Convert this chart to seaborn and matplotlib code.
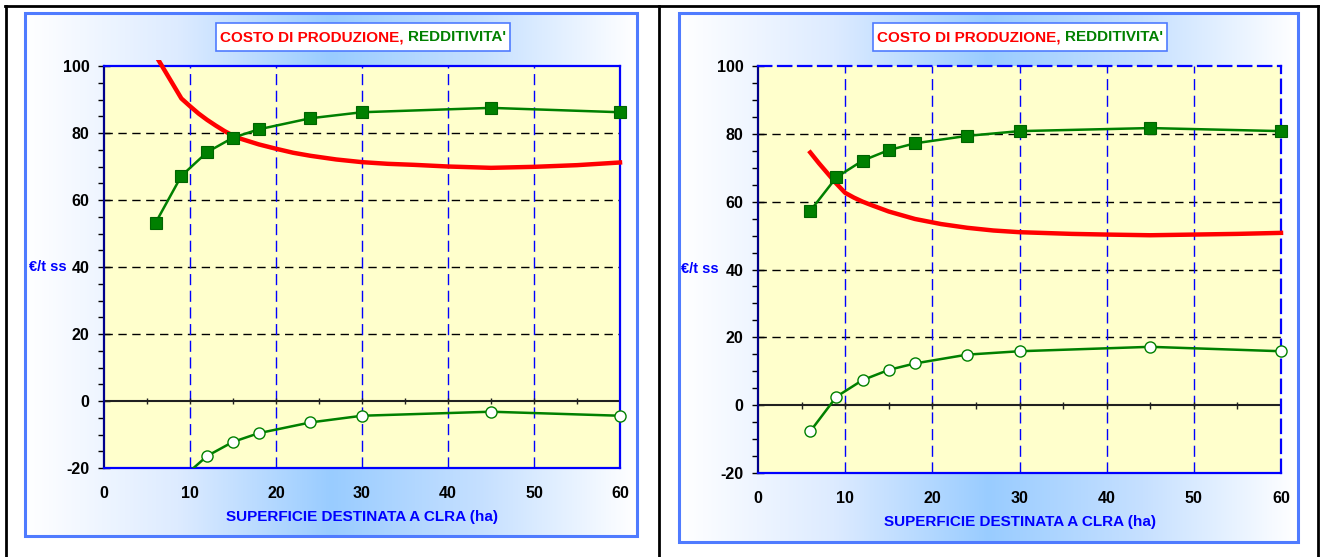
import numpy as np
import pandas as pd
import seaborn as sns
from matplotlib import pyplot as plt
from matplotlib import font_manager
from matplotlib.patches import Rectangle
from matplotlib.lines import Line2D

# ---- data ----
ha = [6, 9, 12, 15, 18, 24, 30, 45, 60]

# left panel
left_reddito = [53.2, 67.2, 74.3, 78.6, 81.1, 84.4, 86.2, 87.5, 86.2]
left_margine = [-42.0, -23.2, -16.4, -12.2, -9.6, -6.4, -4.4, -3.2, -4.4]
left_costo_x = [6, 9, 10, 11, 12, 13, 14, 15, 16, 18, 20, 22, 24, 27, 30, 33, 36, 40, 45, 50, 55, 60]
left_costo = [103.2, 90.3, 88.0, 85.8, 83.9, 82.2, 80.6, 79.2, 78.2, 76.6, 75.3, 74.1, 73.2,
              72.1, 71.3, 70.8, 70.5, 70.0, 69.6, 69.9, 70.4, 71.2]

# right panel
right_reddito = [57.3, 67.2, 72.1, 75.2, 77.2, 79.4, 80.8, 81.7, 80.8]
right_margine = [-7.7, 2.5, 7.4, 10.4, 12.3, 14.9, 15.9, 17.2, 15.9]
right_costo_x = [6, 7, 8, 9, 10, 11, 12, 13, 15, 18, 21, 24, 27, 30, 36, 40, 45, 50, 55, 60]
right_costo = [74.5, 71.3, 68.3, 65.3, 62.6, 61.2, 60.0, 59.0, 57.1, 54.9, 53.4, 52.3, 51.5,
               51.0, 50.5, 50.3, 50.1, 50.3, 50.5, 50.8]

title_red = "COSTO DI PRODUZIONE, "
title_green = "REDDITIVITA'"
xlabel = "SUPERFICIE DESTINATA A CLRA (ha)"
ylabel = "€/t ss"

W, H = 1320, 557

names = {f.name for f in font_manager.fontManager.ttflist}
narrow = "Liberation Sans Narrow" if "Liberation Sans Narrow" in names else "Liberation Sans"
plt.rcParams['font.family'] = ['Liberation Sans', 'DejaVu Sans']
plt.rcParams['axes.unicode_minus'] = False

fig = plt.figure(figsize=(W / 100, H / 100), dpi=100)


def fx(px):
    return px / W


def fy(py):
    return 1 - py / H


# outer black table lines
for x in (6, 659, 1318):
    fig.add_artist(Line2D([fx(x), fx(x)], [fy(6), 0], transform=fig.transFigure,
                          color='black', lw=2))
fig.add_artist(Line2D([fx(5), fx(1319)], [fy(6), fy(6)], transform=fig.transFigure,
                      color='black', lw=2))

grad_cmap = plt.matplotlib.colors.LinearSegmentedColormap.from_list(
    'g', ['#FFFFFF', '#DDEBFF', '#99CCFF', '#C6E0FF', '#FFFFFF'])


def panel(frame, plot, title_c, ylab_x, reddito, margine, cx, costo, dashed_edge):
    # frame with horizontal gradient
    l, t, r, b = frame
    bg = fig.add_axes([fx(l), fy(b), fx(r - l), (b - t) / H])
    bg.imshow(np.linspace(0, 1, 256)[None, :], cmap=grad_cmap, aspect='auto',
              extent=[0, 1, 0, 1])
    bg.set_xlim(0, 1)
    bg.set_ylim(0, 1)
    bg.axis('off')
    bg.add_patch(Rectangle((0, 0), 1, 1, transform=bg.transAxes, fill=False,
                           ec='#4F7BFF', lw=2.2, clip_on=False))

    pl, pt, pr, pb = plot
    ax = fig.add_axes([fx(pl), fy(pb), fx(pr - pl), (pb - pt) / H])
    ax.set_facecolor('#FFFFCC')
    ax.set_xlim(0, 60)
    ax.set_ylim(-20, 100)

    for y in (20, 40, 60, 80):
        ax.axhline(y, color='black', lw=1, dashes=(6, 4), zorder=1)
    for x in (10, 20, 30, 40, 50):
        ax.axvline(x, color='#0000FF', lw=1, dashes=(8, 4), zorder=1)
    ax.axhline(0, color='#202020', lw=1.5, zorder=2)
    ax.vlines(np.arange(5, 60, 5), -1.0, 1.0, color='#202020', lw=1, zorder=2)

    sns.lineplot(x=cx, y=costo, ax=ax, color='#FF0000', lw=3.2, sort=False,
                 estimator=None, zorder=3)
    sns.lineplot(x=ha, y=reddito, ax=ax, color='#008000', lw=1.8, sort=False,
                 estimator=None, marker='s', markersize=8.5, markerfacecolor='#008000',
                 markeredgecolor='#006400', markeredgewidth=0.8, zorder=4)
    sns.lineplot(x=ha, y=margine, ax=ax, color='#008000', lw=1.8, sort=False,
                 estimator=None, marker='o', markersize=8, markerfacecolor='white',
                 markeredgecolor='#008000', markeredgewidth=1.0, zorder=4)
    # let markers at the plot edge show in full, cut only below the bottom
    for ln in ax.lines[-3:]:
        ln.set_clip_path(Rectangle((-0.03, 0), 1.06, 1.014, transform=ax.transAxes))

    ax.set_xticks(range(0, 61, 10))
    ax.set_yticks(range(-20, 101, 20))
    ax.set_yticks(range(-20, 101, 5), minor=True)
    ax.tick_params(axis='x', length=0, pad=13, labelsize=11.5)
    ax.tick_params(axis='y', which='major', length=9, direction='inout', width=1,
                   pad=6, labelsize=11.5)
    ax.tick_params(axis='y', which='minor', length=4, direction='out', width=1)
    for lab in ax.get_xticklabels() + ax.get_yticklabels():
        lab.set_fontweight('bold')
    ax.set_xlabel('')
    ax.set_ylabel('')

    ax.spines['left'].set_color('#00008B')
    ax.spines['left'].set_linewidth(1.6)
    ax.spines['bottom'].set_color('#0000FF')
    ax.spines['bottom'].set_linewidth(1.6)
    for s in ('top', 'right'):
        ax.spines[s].set_color('#0000FF')
        ax.spines[s].set_linewidth(1.6)
        if dashed_edge:
            ax.spines[s].set_linestyle((0, (6, 3)))

    # title box
    cxp, cyp = title_c
    t1 = fig.text(0, fy(cyp), title_red, color='#FF0000', fontsize=11,
                  fontweight='bold', family=[narrow, 'DejaVu Sans'], va='center', ha='left')
    t2 = fig.text(0, fy(cyp), title_green, color='#008000', fontsize=11,
                  fontweight='bold', family=[narrow, 'DejaVu Sans'], va='center', ha='left')
    fig.canvas.draw()
    r = fig.canvas.get_renderer()
    w1 = t1.get_window_extent(r).width
    w2 = t2.get_window_extent(r).width
    x0 = cxp - (w1 + w2) / 2
    t1.set_x(fx(x0))
    t2.set_x(fx(x0 + w1))
    bw, bh = w1 + w2 + 8, 28
    fig.add_artist(Rectangle((fx(cxp - bw / 2), fy(cyp + bh / 2)), bw / W, bh / H,
                             transform=fig.transFigure, fc='white', ec='#4F7BFF',
                             lw=1.2, zorder=0.5))
    t1.set_zorder(1)
    t2.set_zorder(1)

    fig.text(fx((pl + pr) / 2), fy(pb + 49), xlabel, color='#0000FF', fontsize=11,
             fontweight='bold', family=[narrow, 'DejaVu Sans'], ha='center', va='center')
    fig.text(fx(ylab_x), fy(pt + (pb - pt) * 0.5), ylabel, color='#0000FF',
             fontsize=10.5, fontweight='bold', ha='center', va='center')
    return ax


panel((25, 13, 637, 536), (104, 66, 620, 468), (363, 37), 48,
      left_reddito, left_margine, left_costo_x, left_costo, False)
panel((679, 13, 1298, 542), (758, 66, 1281, 473), (1020, 37), 700,
      right_reddito, right_margine, right_costo_x, right_costo, True)

fig.savefig('out.png', dpi=100)
